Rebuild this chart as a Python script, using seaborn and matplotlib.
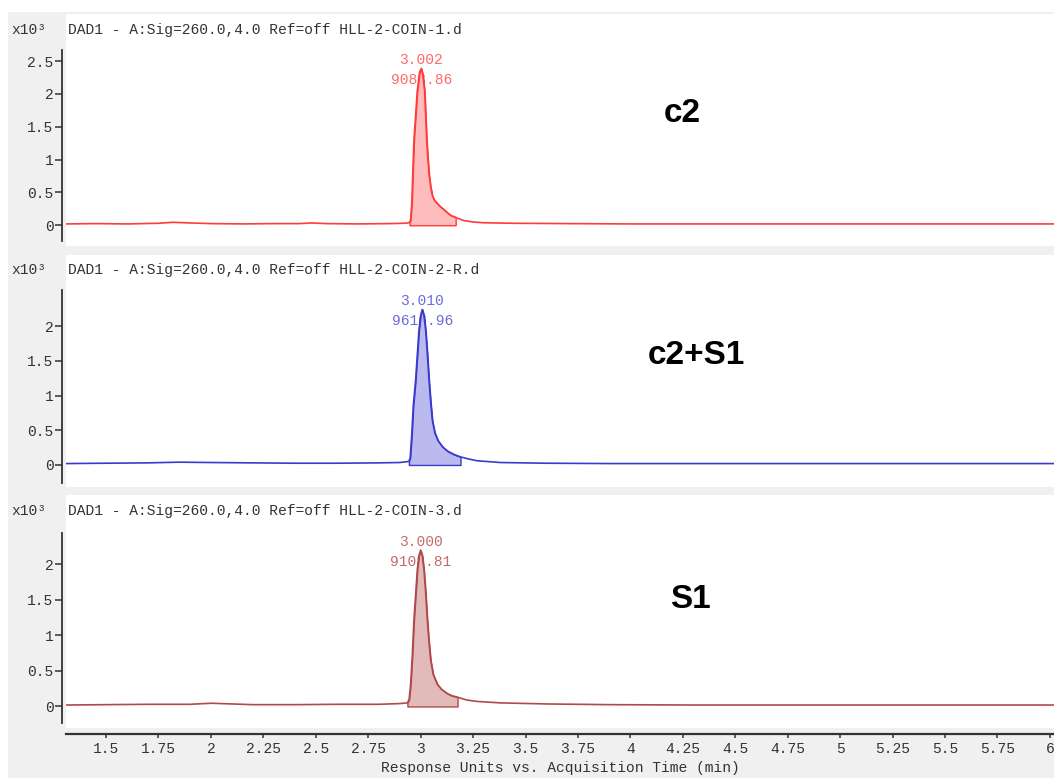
import matplotlib
matplotlib.use("Agg")
import matplotlib.pyplot as plt
from matplotlib.patches import Rectangle
import numpy as np
import pandas as pd
import seaborn as sns

# ---- data (time in min, signal in x10^3 units) ----
time_c2 = [1.31, 1.45, 1.6, 1.75, 1.82, 1.9, 2.0, 2.15, 2.3, 2.42, 2.48, 2.55, 2.7, 2.85, 2.92,
           2.94, 2.947, 2.952, 2.958, 2.968, 2.984, 2.995, 3.003, 3.01, 3.019, 3.029, 3.035, 3.04,
           3.048, 3.056, 3.066, 3.08, 3.095, 3.111, 3.128, 3.144, 3.167, 3.19, 3.207, 3.25, 3.3,
           3.45, 3.7, 4.0, 4.5, 5.0, 5.5, 6.02]
signal_c2 = [0.02, 0.025, 0.02, 0.03, 0.045, 0.035, 0.025, 0.02, 0.025, 0.025, 0.035, 0.025, 0.02, 0.025, 0.03,
             0.035, 0.045, 0.08, 0.35, 1.29, 2.05, 2.33, 2.39, 2.3, 2.05, 1.29, 1.0, 0.78,
             0.58, 0.45, 0.38, 0.33, 0.28, 0.24, 0.19, 0.15, 0.12, 0.09, 0.07, 0.05, 0.038,
             0.03, 0.025, 0.02, 0.02, 0.02, 0.02, 0.02]

time_mix = [1.31, 1.5, 1.7, 1.85, 2.0, 2.2, 2.4, 2.6, 2.8, 2.9, 2.944, 2.95, 2.958, 2.965, 2.976, 2.992,
            3.0, 3.008, 3.016, 3.024, 3.032, 3.04, 3.048, 3.056, 3.068, 3.083, 3.105, 3.128, 3.16, 3.19,
            3.23, 3.27, 3.38, 3.6, 3.9, 4.3, 5.0, 5.5, 6.02]
signal_mix = [0.02, 0.025, 0.03, 0.04, 0.035, 0.03, 0.025, 0.025, 0.03, 0.035, 0.05, 0.1, 0.45, 0.85, 1.22, 1.94,
              2.15, 2.24, 2.15, 1.94, 1.6, 1.22, 0.9, 0.64, 0.46, 0.35, 0.26, 0.2, 0.15, 0.116,
              0.085, 0.06, 0.035, 0.025, 0.02, 0.02, 0.02, 0.02, 0.02]

time_s1 = [1.31, 1.5, 1.7, 1.9, 2.0, 2.05, 2.2, 2.4, 2.6, 2.8, 2.9, 2.937, 2.945, 2.952, 2.96, 2.968, 2.984,
           2.992, 3.0, 3.008, 3.016, 3.024, 3.032, 3.04, 3.048, 3.06, 3.08, 3.1, 3.128, 3.15, 3.176,
           3.22, 3.27, 3.38, 3.6, 3.9, 4.3, 5.0, 5.5, 6.02]
signal_s1 = [0.02, 0.025, 0.03, 0.03, 0.045, 0.04, 0.025, 0.025, 0.03, 0.03, 0.04, 0.05, 0.1, 0.3, 0.7, 1.21, 1.92,
             2.12, 2.2, 2.12, 1.92, 1.6, 1.21, 0.9, 0.65, 0.45, 0.31, 0.24, 0.18, 0.15, 0.13,
             0.09, 0.07, 0.05, 0.035, 0.025, 0.02, 0.02, 0.02, 0.02]

window_c2 = (2.947, 3.167)
window_mix = (2.944, 3.19)
window_s1 = (2.937, 3.176)

peak_rt = ["3.002", "3.010", "3.000"]
peak_area = ["9083.86", "9616.96", "9108.81"]
file_names = ["HLL-2-COIN-1.d", "HLL-2-COIN-2-R.d", "HLL-2-COIN-3.d"]
sample_names = ["c2", "c2+S1", "S1"]

x_ticks = [1.5, 1.75, 2, 2.25, 2.5, 2.75, 3, 3.25, 3.5, 3.75, 4, 4.25, 4.5, 4.75, 5, 5.25, 5.5, 5.75, 6]
x_tick_labels = ["1.5", "1.75", "2", "2.25", "2.5", "2.75", "3", "3.25", "3.5", "3.75", "4",
                 "4.25", "4.5", "4.75", "5", "5.25", "5.5", "5.75", "6"]
y_ticks_top = [0, 0.5, 1, 1.5, 2, 2.5]
y_ticks_rest = [0, 0.5, 1, 1.5, 2]

# ---- style ----
sns.set_style("white")
plt.rcParams['font.family'] = ['Liberation Mono', 'DejaVu Sans']
txt = '#333333'

W, H = 1054, 778
fig = plt.figure(figsize=(W / 100, H / 100), dpi=100)


def fx(x):
    return x / W


def fy(y):
    return 1 - y / H


# gray frame and white panels
fig.add_artist(Rectangle((fx(8), 0), 1 - fx(8), fy(12), transform=fig.transFigure,
                         facecolor='#f0f0f0', edgecolor='none', zorder=-2))
white_rows = [(14, 246), (255, 487), (495, 728)]
for top, bot in white_rows:
    fig.add_artist(Rectangle((fx(66), fy(bot)), 1 - fx(66), (bot - top) / H, transform=fig.transFigure,
                             facecolor='white', edgecolor='none', zorder=-1))

panels = [
    dict(t=time_c2, s=signal_c2, win=window_c2, rt=peak_rt[0], area=peak_area[0], name=sample_names[0],
         fname=file_names[0], line='#ff3b3b', fill='#ffbcbc', label='#ff6a6a',
         box=(50, 241), ylim=(-0.24, 2.67), yt=y_ticks_top, head=30, name_pos=(682, 114)),
    dict(t=time_mix, s=signal_mix, win=window_mix, rt=peak_rt[1], area=peak_area[1], name=sample_names[1],
         fname=file_names[1], line='#3a3acc', fill='#babaee', label='#6b6bdc',
         box=(290, 483), ylim=(-0.26, 2.52), yt=y_ticks_rest, head=270, name_pos=(696, 355)),
    dict(t=time_s1, s=signal_s1, win=window_s1, rt=peak_rt[2], area=peak_area[2], name=sample_names[2],
         fname=file_names[2], line='#b04a4a', fill='#e2baba', label='#c46a6a',
         box=(533, 723), ylim=(-0.233, 2.44), yt=y_ticks_rest, head=511, name_pos=(690, 600)),
]

for i, p in enumerate(panels):
    top, bot = p['box']
    ax = fig.add_axes([fx(66), fy(bot), 1 - fx(66), (bot - top) / H])
    ax.set_facecolor('none')
    df = pd.DataFrame({'time': p['t'], 'signal': p['s']})
    sns.lineplot(data=df, x='time', y='signal', ax=ax, color=p['line'], linewidth=1.2, zorder=3)

    seg = df[(df['time'] >= p['win'][0]) & (df['time'] <= p['win'][1])]
    ax.fill_between(seg['time'], 0, seg['signal'], facecolor=p['fill'], edgecolor=p['line'],
                    linewidth=1.0, zorder=2)

    pk = df.loc[df['signal'].idxmax()]
    ax.annotate(p['rt'], xy=(pk['time'], pk['signal']), xytext=(0, 8.5), textcoords='offset pixels',
                ha='center', va='center', fontsize=10.5, color=p['label'], zorder=1)
    ax.annotate(p['area'], xy=(pk['time'], pk['signal']), xytext=(0, -11.5), textcoords='offset pixels',
                ha='center', va='center', fontsize=10.5, color=p['label'], zorder=1)

    ax.set_xlim(1.309, 6.02)
    ax.set_ylim(*p['ylim'])
    ax.set_yticks(p['yt'])
    ax.set_yticklabels([f"{v:g}" for v in p['yt']])
    ax.set_xlabel('')
    ax.set_ylabel('')
    sns.despine(ax=ax, top=True, right=True)
    ax.spines['left'].set_position(('outward', 3))
    ax.spines['left'].set_color(txt)
    ax.spines['left'].set_linewidth(1.3)
    ax.tick_params(axis='y', direction='out', length=5, width=1.1, color=txt,
                   labelsize=10.5, labelcolor=txt, pad=1, left=True)

    if i < 2:
        ax.spines['bottom'].set_visible(False)
        ax.set_xticks([])
    else:
        ax.spines['bottom'].set_position(('outward', 7.7))
        ax.spines['bottom'].set_color(txt)
        ax.spines['bottom'].set_linewidth(1.6)
        ax.set_xticks(x_ticks)
        ax.set_xticklabels(x_tick_labels)
        ax.tick_params(axis='x', direction='out', length=3, width=1.1, color=txt,
                       labelsize=10.5, labelcolor=txt, pad=3, bottom=True)

    fig.text(fx(11), fy(p['head']), "x10³", ha='left', va='center', fontsize=10.5, color=txt)
    fig.text(fx(68), fy(p['head']), "DAD1 - A:Sig=260.0,4.0 Ref=off " + p['fname'],
             ha='left', va='center', fontsize=10.5, color=txt)
    fig.text(fx(p['name_pos'][0]), fy(p['name_pos'][1]), p['name'], ha='center', va='center',
             fontsize=24, fontweight='bold', family='Liberation Sans', color='black')

fig.text(fx(560), fy(768), "Response Units vs. Acquisition Time (min)", ha='center', va='center',
         fontsize=10.5, color=txt)

fig.savefig("out.png", dpi=100, facecolor='white')
